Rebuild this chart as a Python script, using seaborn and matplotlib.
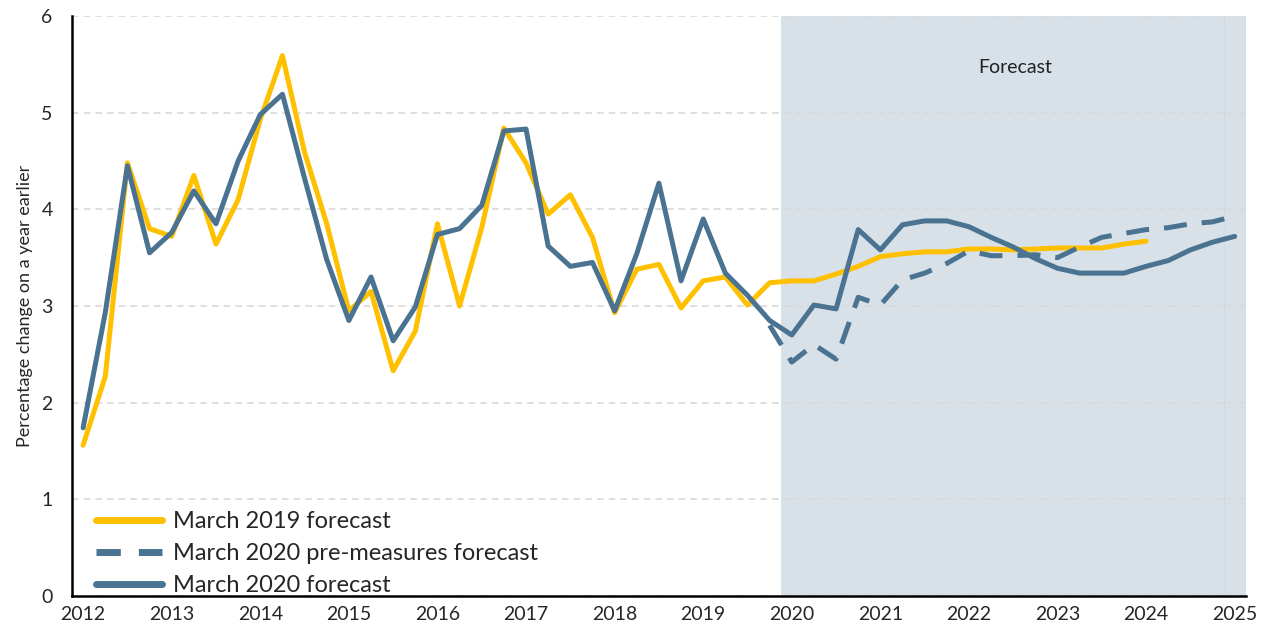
import numpy as np
import pandas as pd
import matplotlib
matplotlib.use("Agg")
import matplotlib.pyplot as plt
import seaborn as sns

# quarterly, 2012Q1 .. 2025Q1
years = [str(y) for y in range(2012, 2026)]
n_q = 53

mar2019 = [1.56, 2.27, 4.48, 3.80, 3.72, 4.35, 3.64, 4.10, 4.93, 5.59,
           4.59, 3.85, 2.95, 3.15, 2.33, 2.74, 3.85, 3.00, 3.81, 4.84,
           4.48, 3.95, 4.15, 3.71, 2.93, 3.38, 3.43, 2.98, 3.26, 3.30,
           3.01, 3.24, 3.26, 3.26, 3.33, 3.41, 3.51, 3.54, 3.56, 3.56,
           3.59, 3.59, 3.58, 3.59, 3.60, 3.60, 3.60, 3.64, 3.67]

mar2020_pre = [np.nan] * 31 + [
           2.80, 2.42, 2.60, 2.45, 3.09, 3.01, 3.27, 3.34, 3.44, 3.57,
           3.52, 3.52, 3.53, 3.50, 3.61, 3.71, 3.75, 3.79, 3.81, 3.85,
           3.87, 3.93]

mar2020 = [1.74, 2.93, 4.45, 3.55, 3.76, 4.19, 3.85, 4.50, 4.98, 5.19,
           4.32, 3.48, 2.85, 3.30, 2.64, 2.99, 3.74, 3.80, 4.04, 4.81,
           4.83, 3.62, 3.41, 3.45, 2.95, 3.54, 4.27, 3.26, 3.90, 3.34,
           3.11, 2.85, 2.70, 3.01, 2.97, 3.79, 3.58, 3.84, 3.88, 3.88,
           3.82, 3.71, 3.61, 3.49, 3.39, 3.34, 3.34, 3.34, 3.41, 3.47,
           3.58, 3.66, 3.72]

mar2019 = mar2019 + [np.nan] * (n_q - len(mar2019))

df = pd.DataFrame({"q": np.arange(n_q), "m19": mar2019,
                   "pre": mar2020_pre, "m20": mar2020})

yellow = "#FFC000"
blue = "#4A7291"
shade = "#D9E1E8"

sns.set_style("white")
plt.rcParams["font.family"] = ["Lato", "DejaVu Sans"]

fig = plt.figure(figsize=(12.73, 6.38), dpi=100)
ax = fig.add_axes([0.0566, 0.0658, 0.9220, 0.9092])

# forecast period
ax.axvspan(31.5, 52.5, color=shade, lw=0, zorder=0)
ax.axvline(51.5, color="#d2dbe3", lw=0.8, zorder=0.5)
ax.text(42.1, 5.47, "Forecast", ha="center", va="center", fontsize=14, color="#222222")

sns.lineplot(data=df, x="q", y="m19", ax=ax, color=yellow, lw=3.6,
             label="March 2019 forecast", zorder=3)
sns.lineplot(data=df, x="q", y="pre", ax=ax, color=blue, lw=3.6,
             dashes=(4.6, 3.0), label="March 2020 pre-measures forecast", zorder=4)
sns.lineplot(data=df, x="q", y="m20", ax=ax, color=blue, lw=3.6,
             label="March 2020 forecast", zorder=5)

ax.set_xlim(-0.5, 52.5)
ax.set_ylim(0, 6)
ax.set_yticks(range(0, 7))
ax.yaxis.grid(True, color="#d9d9d9", linestyle=(0, (4, 3)), lw=1.2)
ax.set_axisbelow(True)

# ticks between quarters, year labels under first quarter
ax.set_xticks(np.arange(-0.5, 53, 1.0))
ax.set_xticklabels([])
ax.set_xticks(np.arange(0, 53, 4), minor=True)
ax.set_xticklabels(years, minor=True, fontsize=14)
ax.tick_params(axis="x", which="major", direction="out", length=6, width=1.3, color="black")
ax.tick_params(axis="x", which="minor", length=0, pad=7)
ax.tick_params(axis="y", direction="out", length=8, width=1.3, color="black",
               labelsize=14, pad=6)

for s in ["top", "right"]:
    ax.spines[s].set_visible(False)
for s in ["left", "bottom"]:
    ax.spines[s].set_color("black")
    ax.spines[s].set_linewidth(1.8)

ax.set_xlabel("")
ax.set_ylabel("Percentage change on a year earlier", fontsize=13, labelpad=6)

leg = ax.legend(loc="lower left", bbox_to_anchor=(0.0204, 0.0), frameon=False,
                fontsize=17, handlelength=2.8, labelspacing=0.46, borderpad=0.0,
                borderaxespad=0.0, handletextpad=0.45)
for h in leg.get_lines():
    h.set_linewidth(5)
leg.get_lines()[1].set_dashes((3.5, 2.6))

fig.savefig("out.png", dpi=100)
